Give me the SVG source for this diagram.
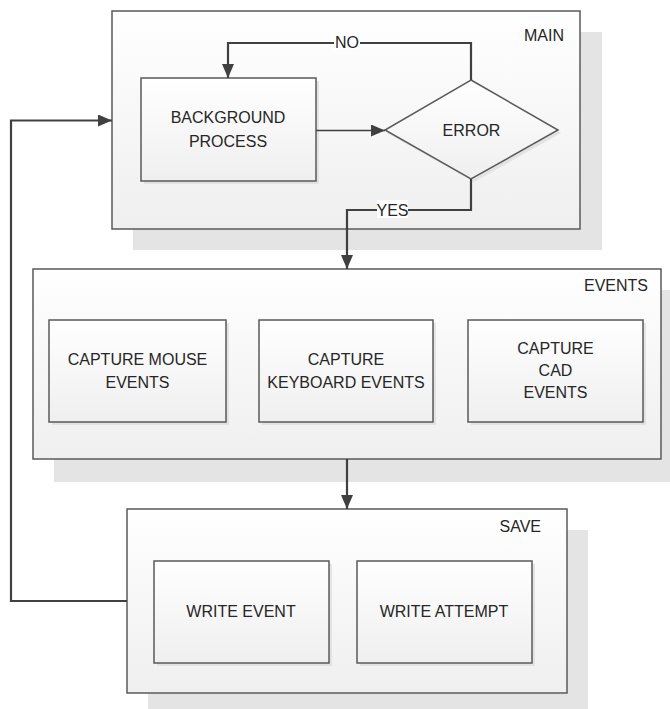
<svg xmlns="http://www.w3.org/2000/svg" width="670" height="709" viewBox="0 0 670 709">
<defs>
<linearGradient id="gFill" x1="0" y1="0" x2="0" y2="1">
<stop offset="0" stop-color="#ffffff"/>
<stop offset="1" stop-color="#efefef"/>
</linearGradient>
<marker id="arrow" markerWidth="14" markerHeight="12" refX="14" refY="6" orient="auto" markerUnits="userSpaceOnUse">
<path d="M0,0 L14,6 L0,12 Z" fill="#404040"/>
</marker>
<style>
.shadow{fill:#e4e4e4;stroke:none}
.ishadow{fill:#dcdcdc;stroke:none;opacity:0.7}
.box{fill:url(#gFill);stroke:#5a5a5a;stroke-width:1.5}
.t{font-family:"Liberation Sans",Arial,sans-serif;font-size:16px;fill:#262626;text-anchor:middle}
.tr{font-family:"Liberation Sans",Arial,sans-serif;font-size:16px;fill:#262626;text-anchor:end}
.conn{fill:none;stroke:#404040;stroke-width:2.2}
.thin{fill:none;stroke:#404040;stroke-width:1.3}
.lblbg{fill:#ffffff;stroke:none}
</style>
</defs>
<rect width="670" height="709" fill="#ffffff"/>

<g id="main">
<rect class="shadow" x="133" y="32" width="469" height="218"/>
<rect class="box" x="112" y="11" width="468" height="218"/>
<text class="tr" x="564" y="41">MAIN</text>
</g>

<g id="events">
<rect class="shadow" x="54" y="290" width="628" height="192"/>
<rect class="box" x="33" y="269" width="628" height="190"/>
<text class="tr" x="648" y="291">EVENTS</text>
</g>

<g id="save">
<rect class="shadow" x="148" y="530" width="440" height="185"/>
<rect class="box" x="127" y="509" width="440" height="184"/>
<text class="tr" x="541" y="532">SAVE</text>
</g>

<g id="background-process">
<rect class="ishadow" x="144" y="81" width="175" height="103"/>
<rect class="box" x="141" y="78" width="175" height="103"/>
<text class="t" x="228" y="123">BACKGROUND</text>
<text class="t" x="228" y="147">PROCESS</text>
</g>

<g id="error">
<polygon class="ishadow" points="474,83 561,133 474,182 387,133"/>
<polygon class="box" points="471,80 558,130 471,179 385,130"/>
<text class="t" x="471.5" y="136">ERROR</text>
</g>

<g id="capture-mouse">
<rect class="ishadow" x="52" y="323" width="177" height="102"/>
<rect class="box" x="49" y="320" width="177" height="102"/>
<text class="t" x="137.5" y="365">CAPTURE MOUSE</text>
<text class="t" x="137.5" y="388">EVENTS</text>
</g>

<g id="capture-keyboard">
<rect class="ishadow" x="262" y="323" width="174" height="102"/>
<rect class="box" x="259" y="320" width="174" height="102"/>
<text class="t" x="346" y="365">CAPTURE</text>
<text class="t" x="346" y="388">KEYBOARD EVENTS</text>
</g>

<g id="capture-cad">
<rect class="ishadow" x="471" y="323" width="175" height="102"/>
<rect class="box" x="468" y="320" width="175" height="102"/>
<text class="t" x="555.5" y="354">CAPTURE</text>
<text class="t" x="555.5" y="376">CAD</text>
<text class="t" x="555.5" y="398">EVENTS</text>
</g>

<g id="write-event">
<rect class="ishadow" x="157" y="564" width="175" height="102"/>
<rect class="box" x="154" y="561" width="175" height="102"/>
<text class="t" x="241" y="617">WRITE EVENT</text>
</g>

<g id="write-attempt">
<rect class="ishadow" x="360" y="564" width="175" height="102"/>
<rect class="box" x="357" y="561" width="175" height="102"/>
<text class="t" x="444" y="617">WRITE ATTEMPT</text>
</g>

<g id="connectors">
<path class="thin" d="M316,130.5 L385,130.5" marker-end="url(#arrow)"/>
<path class="conn" d="M471,80 L471,43 L228,43 L228,78" marker-end="url(#arrow)"/>
<rect class="lblbg" x="334" y="33" width="26" height="17"/>
<text class="t" x="347" y="47.5">NO</text>
<path class="conn" d="M471,179 L471,210 L347,210 L347,269" marker-end="url(#arrow)"/>
<rect class="lblbg" x="377" y="200" width="31" height="18"/>
<text class="t" x="392.5" y="215.5">YES</text>
<path class="conn" d="M347,459 L347,509" marker-end="url(#arrow)"/>
<path class="conn" d="M127,601 L11,601 L11,120.5 L112,120.5" marker-end="url(#arrow)"/>
</g>
</svg>
